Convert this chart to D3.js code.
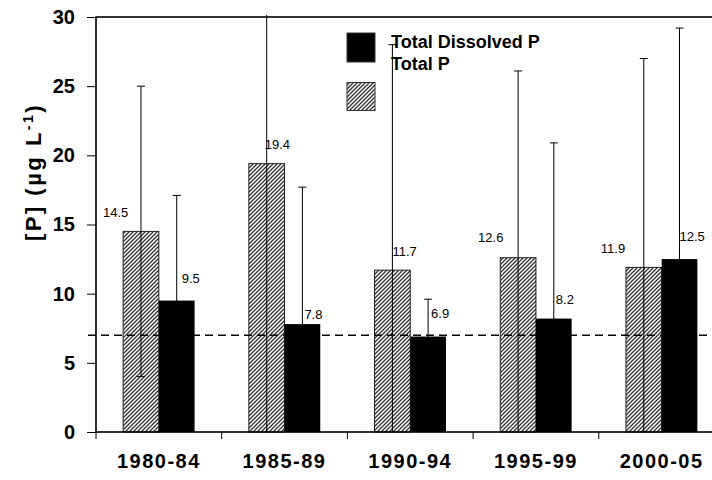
<!DOCTYPE html>
<html>
<head>
<meta charset="utf-8">
<script src="https://cdn.jsdelivr.net/npm/d3@7"></script>
<style>
  body { margin: 0; background: #fff; }
  svg { display: block; font-family: "Liberation Sans", Arial, sans-serif; }
</style>
</head>
<body>
<div id="viz"></div>
<script>
const periods = ["1980-84", "1985-89", "1990-94", "1995-99", "2000-05"];
const totalP = [14.5, 19.4, 11.7, 12.6, 11.9];
const totalPErr = [10.5, 20.0, 16.3, 13.5, 15.1];
const dissolvedP = [9.5, 7.8, 6.9, 8.2, 12.5];
const dissolvedPErr = [7.6, 9.9, 2.7, 12.7, 16.7];
const yTicks = [0, 5, 10, 15, 20, 25, 30];
const guideline = 7;

// label nudges (Excel data labels were dragged by hand)
const tpLabelDx = [-38, -2, 0, -40, -43];
const tpLabelDy = [-19, -19, -19, -20, -19];
const tdpLabelDx = [5, 2, 3, 2, 0];
const tdpLabelDy = [-22, -10, -23, -19, -23];

const width = 712, height = 480;
const margin = { left: 96, top: 17, right: -12.5, bottom: 48 };
const innerW = width - margin.left - margin.right;
const innerH = height - margin.top - margin.bottom;

const svg = d3.select("#viz").append("svg")
  .attr("width", width).attr("height", height)
  .style("overflow", "hidden");

const defs = svg.append("defs");
const hatch = defs.append("pattern")
  .attr("id", "hatch")
  .attr("patternUnits", "userSpaceOnUse")
  .attr("width", 4).attr("height", 4);
hatch.append("rect").attr("width", 4).attr("height", 4).attr("fill", "#fff");
hatch.append("path")
  .attr("d", "M-1,1 l2,-2 M0,4 l4,-4 M3,5 l2,-2")
  .attr("stroke", "#333").attr("stroke-width", 1.3);

defs.append("clipPath").attr("id", "plotclip")
  .append("rect").attr("x", 0).attr("y", -2).attr("width", innerW).attr("height", innerH + 2);

const g = svg.append("g").attr("transform", `translate(${margin.left},${margin.top})`);

const x0 = d3.scaleBand().domain(periods).range([0, innerW]).padding(0);
const x1 = d3.scaleBand().domain(["tp", "tdp"]).range([0, x0.bandwidth()])
  .paddingInner(0).paddingOuter(0.76);
const y = d3.scaleLinear().domain([0, 30]).range([innerH, 0]);

const rows = periods.map((p, i) => ({
  period: p, i,
  tp: totalP[i], tpErr: totalPErr[i],
  tdp: dissolvedP[i], tdpErr: dissolvedPErr[i]
}));

// bars
g.selectAll(".tp").data(rows).join("rect")
  .attr("class", "tp")
  .attr("x", d => x0(d.period) + x1("tp"))
  .attr("y", d => y(d.tp))
  .attr("width", x1.bandwidth())
  .attr("height", d => innerH - y(d.tp))
  .attr("fill", "url(#hatch)")
  .attr("stroke", "#222").attr("stroke-width", 1);

g.selectAll(".tdp").data(rows).join("rect")
  .attr("class", "tdp")
  .attr("x", d => x0(d.period) + x1("tdp"))
  .attr("y", d => y(d.tdp))
  .attr("width", x1.bandwidth())
  .attr("height", d => innerH - y(d.tdp))
  .attr("fill", "#000");

// dashed reference line
g.append("line")
  .attr("x1", -8).attr("x2", innerW)
  .attr("y1", y(guideline)).attr("y2", y(guideline))
  .attr("stroke", "#000").attr("stroke-width", 1.5)
  .attr("stroke-dasharray", "8,5");

// error bars
const errs = [];
rows.forEach(d => {
  errs.push({ cx: x0(d.period) + x1("tp") + x1.bandwidth() / 2, v: d.tp, e: d.tpErr });
  errs.push({ cx: x0(d.period) + x1("tdp") + x1.bandwidth() / 2, v: d.tdp, e: d.tdpErr });
});
const eg = g.append("g").attr("clip-path", "url(#plotclip)");
const eb = eg.selectAll("g").data(errs).join("g").attr("stroke", "#000").attr("stroke-width", 1);
eb.append("line")
  .attr("x1", d => d.cx).attr("x2", d => d.cx)
  .attr("y1", d => y(d.v - d.e)).attr("y2", d => y(d.v + d.e));
eb.append("line")
  .attr("x1", d => d.cx - 4).attr("x2", d => d.cx + 4)
  .attr("y1", d => y(d.v + d.e)).attr("y2", d => y(d.v + d.e));
eb.append("line")
  .attr("x1", d => d.cx - 4).attr("x2", d => d.cx + 4)
  .attr("y1", d => y(d.v - d.e)).attr("y2", d => y(d.v - d.e));

// value labels
g.selectAll(".tpl").data(rows).join("text")
  .attr("class", "tpl")
  .attr("x", d => x0(d.period) + x1("tp") + x1.bandwidth() / 2 + tpLabelDx[d.i])
  .attr("y", d => y(d.tp) + tpLabelDy[d.i] + 4.5)
  .attr("font-size", 13)
  .text(d => d.tp.toFixed(1));
g.selectAll(".tdpl").data(rows).join("text")
  .attr("class", "tdpl")
  .attr("x", d => x0(d.period) + x1("tdp") + x1.bandwidth() / 2 + tdpLabelDx[d.i])
  .attr("y", d => y(d.tdp) + tdpLabelDy[d.i] + 4.5)
  .attr("font-size", 13)
  .text(d => d.tdp.toFixed(1));

// y axis
const yAxis = g.append("g")
  .call(d3.axisLeft(y).tickValues(yTicks).tickSize(9).tickPadding(12).tickFormat(d3.format("d")));
yAxis.select(".domain").remove();
yAxis.selectAll("line").attr("stroke", "#000");
yAxis.selectAll("text")
  .attr("font-size", 20).attr("font-weight", "bold").attr("fill", "#000")
  .attr("font-family", "Liberation Sans, Arial, sans-serif");

// x axis
const xAxis = g.append("g").attr("transform", `translate(0,${innerH})`)
  .call(d3.axisBottom(x0).tickSize(0).tickPadding(22));
xAxis.select(".domain").remove();
xAxis.selectAll("text")
  .attr("font-size", 20).attr("font-weight", "bold").attr("fill", "#000")
  .attr("letter-spacing", 1.5)
  .attr("font-family", "Liberation Sans, Arial, sans-serif");
g.append("g").selectAll("line")
  .data(periods.map(p => x0(p)).concat([innerW]))
  .join("line")
  .attr("x1", d => d).attr("x2", d => d)
  .attr("y1", innerH).attr("y2", innerH + 7)
  .attr("stroke", "#000");

// plot frame
g.append("rect")
  .attr("width", innerW).attr("height", innerH)
  .attr("fill", "none").attr("stroke", "#000").attr("stroke-width", 1.6);

// y title
const yt = svg.append("text")
  .attr("transform", "translate(41,172) rotate(-90)")
  .attr("text-anchor", "middle")
  .attr("font-size", 22).attr("font-weight", "bold")
  .attr("letter-spacing", 2.5);
yt.append("tspan").text("[P] (µg L");
yt.append("tspan").attr("font-size", 14).attr("dy", -8).text("-1");
yt.append("tspan").attr("dy", 8).text(")");

// legend
const legend = svg.append("g");
legend.append("rect")
  .attr("x", 347).attr("y", 33).attr("width", 28).attr("height", 29)
  .attr("fill", "#000").attr("stroke", "#333");
legend.append("rect")
  .attr("x", 347).attr("y", 82.5).attr("width", 28).attr("height", 28)
  .attr("fill", "url(#hatch)").attr("stroke", "#333");
legend.selectAll(".lt").data(["Total Dissolved P", "Total P"]).join("text")
  .attr("x", 391).attr("y", (d, i) => 48 + i * 22)
  .attr("font-size", 18).attr("font-weight", "bold")
  .text(d => d);
</script>
</body>
</html>
